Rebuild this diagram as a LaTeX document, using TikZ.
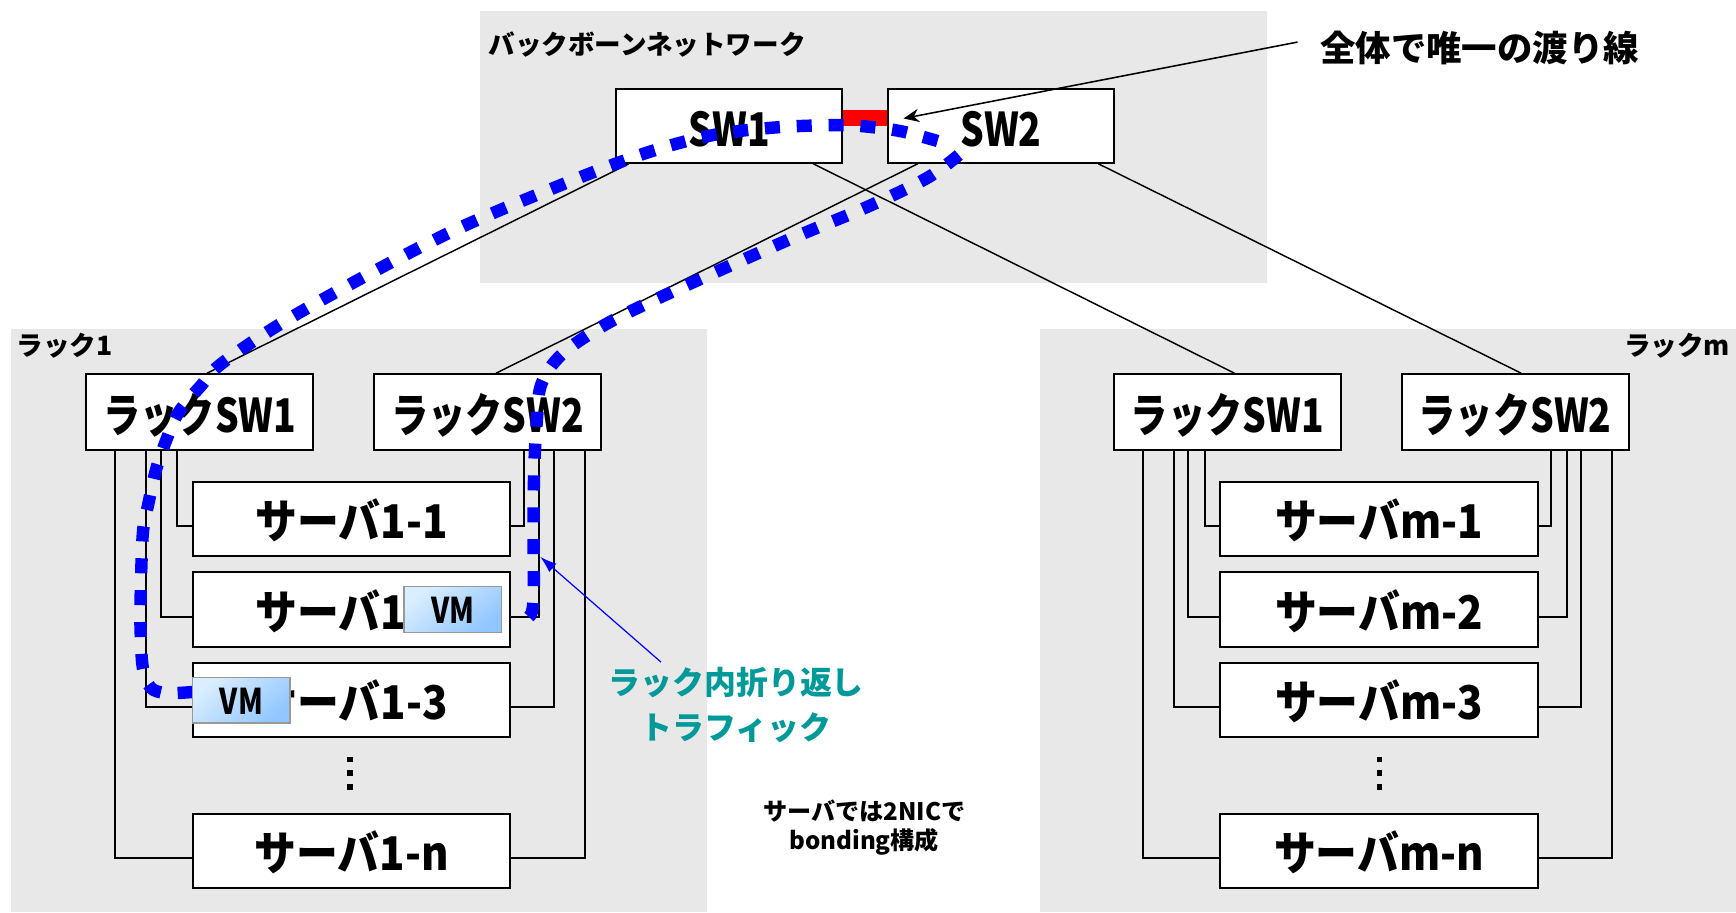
\documentclass[tikz,border=0pt]{standalone}
\usepackage{fontspec}
\newfontfamily\jp{Noto Sans CJK JP}
\newfontfamily\jpA{Noto Sans CJK JP}[FakeStretch=0.8]
\newfontfamily\jpB{Noto Sans CJK JP}[FakeStretch=0.9]
\usetikzlibrary{calc,arrows.meta}
\definecolor{bg}{RGB}{232,232,232}
\definecolor{teal2}{RGB}{0,153,153}
\definecolor{vmA}{RGB}{218,238,255}
\definecolor{vmB}{RGB}{145,198,255}
\definecolor{pblue}{RGB}{0,0,255}
\tikzset{
  swbox/.style={draw, line width=0.9pt, fill=white, inner sep=0pt, minimum width=102pt, minimum height=33.5pt, text height=19pt, text depth=0pt, font=\jpA\bfseries\fontsize{21pt}{25pt}\selectfont},
  rackbox/.style={swbox, minimum width=102.5pt, minimum height=34pt},
  srvbox/.style={draw, line width=0.9pt, fill=white, inner sep=0pt, minimum width=143.5pt, minimum height=33.5pt, text height=18pt, text depth=0pt, font=\jpB\bfseries\fontsize{21pt}{25pt}\selectfont},
  vmbox/.style={draw=black!40, line width=0.6pt, shading=axis, top color=vmA, bottom color=vmB, shading angle=40, inner sep=0pt, minimum width=44pt, minimum height=20.5pt, text height=12.5pt, text depth=0pt, font=\jpA\bfseries\fontsize{16pt}{18pt}\selectfont},
  region/.style={fill=bg},
  uplink/.style={line width=0.65pt},
  downlink/.style={line width=0.9pt},
  traffic/.style={pblue, line width=5.6pt, dash pattern=on 6.8pt off 7.6pt},
  smalllabel/.style={font=\jp\bfseries\fontsize{12pt}{14pt}\selectfont, inner sep=0pt},
}
\begin{document}
\begin{tikzpicture}[x=0.5pt, y=-0.5pt]
\path[use as bounding box] (0,0) rectangle (1568,824);
% regions
\fill[region] (433.5,10) rectangle (1144,256);
\fill[region] (10,297.5) rectangle (638.5,824);
\fill[region] (939,297.5) rectangle (1568,824);
% region labels
\node[smalllabel, anchor=west] (bbl) at (441,40) {バックボーンネットワーク};
\node[smalllabel, anchor=west] (r1l) at (14.5,312) {ラック1};
\node[smalllabel, anchor=east] (rml) at (1563,312) {ラックm};
% switch nodes
\node[swbox] (sw1) at (658.5,113.5) {SW1};
\node[swbox] (sw2) at (904,113.5) {SW2};
\node[rackbox] (rA1) at (180.5,372) {ラックSW1};
\node[rackbox] (rA2) at (440.5,372) {ラックSW2};
\node[rackbox] (rB1) at (1108.5,372) {ラックSW1};
\node[rackbox] (rB2) at (1368.5,372) {ラックSW2};
% uplinks
\draw[uplink] ($(sw1.south)+(-90.5,0)$) -- ($(rA1.north)+(6.5,0)$);
\draw[uplink] ($(sw2.south)+(-75,0)$) -- ($(rA2.north)+(7.5,0)$);
\draw[uplink] ($(sw1.south)+(76,0)$) -- ($(rB1.north)+(6.5,0)$);
\draw[uplink] ($(sw2.south)+(88,0)$) -- ($(rB2.north)+(5.5,0)$);
% servers
\node[srvbox] (a1) at (317.5,468.5) {サーバ1-1};
\node[srvbox] (a2) at (317.5,550.5) {サーバ1-2};
\node[srvbox] (a3) at (317.5,632) {サーバ1-3};
\node[srvbox] (an) at (317.5,768.5) {サーバ1-n};
\node[srvbox] (b1) at (1245.5,468.5) {サーバm-1};
\node[srvbox] (b2) at (1245.5,550.5) {サーバm-2};
\node[srvbox] (b3) at (1245.5,632) {サーバm-3};
\node[srvbox] (bn) at (1245.5,768.5) {サーバm-n};
% downlinks
\foreach \s/\l/\r in {rA1/rA2/a, rB1/rB2/b}{
  \draw[downlink] ($(\s.south west)+(27,0)$) |- ($(\r n.west)+(0,6.5)$);
  \draw[downlink] ($(\s.south west)+(55,0)$) |- ($(\r 3.west)+(0,6.5)$);
  \draw[downlink] ($(\s.south west)+(68,0)$) |- ($(\r 2.west)+(0,6.5)$);
  \draw[downlink] ($(\s.south west)+(83,0)$) |- ($(\r 1.west)+(0,6.5)$);
  \draw[downlink] ($(\l.south west)+(136,0)$) |- ($(\r 1.east)+(0,6.5)$);
  \draw[downlink] ($(\l.south west)+(150,0)$) |- ($(\r 2.east)+(0,6.5)$);
  \draw[downlink] ($(\l.south west)+(163,0)$) |- ($(\r 3.east)+(0,6.5)$);
  \draw[downlink] ($(\l.south west)+(191,0)$) |- ($(\r n.east)+(0,6.5)$);
}
% vertical dots
\foreach \x in {316,1246}{
  \foreach \y in {686,698.5,711}{
    \fill (\x-2.6,\y-2.6) rectangle (\x+2.6,\y+2.6);
  }
}
% the single inter-switch link
\draw[red, line width=7.2pt] ($(sw1.east)+(0,-7)$) -- ($(sw2.west)+(0,-7)$);
% traffic path
\draw[traffic] plot[smooth, tension=0.55] coordinates {(174,625) (150,626) (136,621) (129,603) (127,570) (127,540) (129,482) (134,455) (141,424) (150,398) (161,373) (181,349) (202,327) (271,282) (400,213) (507,167) (584,138) (644,122) (702,115) (759,113) (789,115) (816,119) (849,128)};
\draw[traffic] plot[smooth, tension=0.55] coordinates {(866,140) (837,161) (783,187) (702,221) (572,280) (523,308) (500,328) (488,350) (485,379) (483,411) (482,450) (482,500) (482,540) (479,556) (469,563)};
% VMs
\node[vmbox] (vm1) at (409,550.5) {VM};
\node[vmbox] (vm2) at (218,632.5) {VM};
% annotations
\coordinate (wtail) at (1172,38);
\coordinate (wtip) at ($(sw2.west)+(15,-6.5)$);
\draw[line width=0.7pt, -{Stealth[length=7pt,width=6pt]}] (wtail) -- (wtip);
\node[anchor=west, inner sep=0pt, font=\jp\bfseries\fontsize{16pt}{18pt}\selectfont] (once) at (1192,43) {全体で唯一の渡り線};
\coordinate (ntail) at (597,598);
\coordinate (ntip) at (488,503);
\draw[pblue, line width=0.55pt, -{Latex[length=7.5pt,width=5pt]}] (ntail) -- (ntip);
\node[teal2, align=center, inner sep=0pt, font=\jp\bfseries\fontsize{14.4pt}{20.3pt}\selectfont] (note) at (665,637) {ラック内折り返し\\トラフィック};
\node[align=center, inner sep=0pt, font=\jp\bfseries\fontsize{10.9pt}{13pt}\selectfont] (nic) at (780.5,747.5) {サーバでは2NICで\\bonding構成};
\end{tikzpicture}
\end{document}
